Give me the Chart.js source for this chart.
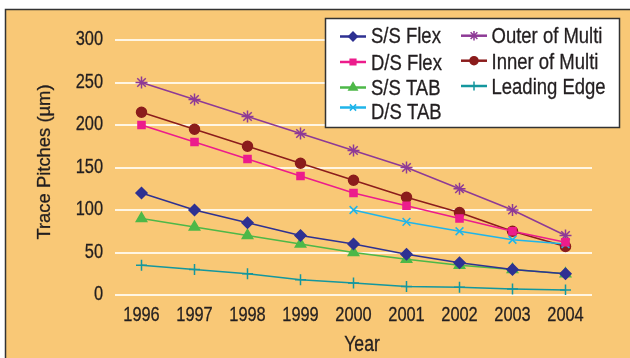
<!DOCTYPE html>
<html><head><meta charset="utf-8">
<script src="https://cdn.jsdelivr.net/npm/chart.js@4"></script>
<style>html,body{margin:0;padding:0;background:#fff;}#wrap{width:630px;height:358px;}</style>
</head><body><div id="wrap"><canvas id="c" width="630" height="358"></canvas></div>
<script>
const years = ['1996','1997','1998','1999','2000','2001','2002','2003','2004'];
const ssFlex = [120,100,85,70,60,48,38,30,25];
const dsFlex = [200,180,160,140,120,105,90,75,62];
const ssTab = [90,80,70,60,50,42,35,30,25];
const dsTab = [null,null,null,null,100,86,75,65,60];
const outerMulti = [250,230,210,190,170,150,125,100,70];
const innerMulti = [215,195,175,155,135,115,97,75,57];
const leadingEdge = [35,30,25,18,14,10,9,7,6];
const yTicks = [0,50,100,150,200,250,300];
const xTitle = 'Year';
const yTitle = 'Trace Pitches (µm)';

const FONT = '"Liberation Sans",Arial,Helvetica,sans-serif';
const TXT = '#231f20';

function ds(label, data, color, style, radius) {
  return {label, data, borderColor: color, backgroundColor: color, pointStyle: style,
    pointRadius: radius, pointHoverRadius: radius, borderWidth: 1.5, pointBorderWidth: 1.5,
    tension: 0, fill: false, spanGaps: false};
}

function sText(ctx, text, x, y, size, sx, align, rot) {
  ctx.save();
  ctx.translate(x, y);
  if (rot) ctx.rotate(rot);
  ctx.scale(sx, 1);
  ctx.font = size + 'px ' + FONT;
  ctx.textAlign = align;
  ctx.textBaseline = 'alphabetic';
  ctx.fillStyle = TXT;
  ctx.strokeStyle = TXT;
  ctx.lineWidth = 0.3;
  ctx.lineJoin = 'round';
  ctx.fillText(text, 0, 0);
  ctx.strokeText(text, 0, 0);
  ctx.restore();
}

const bgPlugin = {
  id: 'bg',
  beforeDraw(chart) {
    const ctx = chart.ctx;
    ctx.save();
    ctx.fillStyle = '#ffffff';
    ctx.fillRect(0, 0, 630, 358);
    ctx.fillStyle = '#f9c876';
    ctx.fillRect(6, 10, 624, 348);
    ctx.strokeStyle = '#333333';
    ctx.lineWidth = 1.5;
    ctx.beginPath();
    ctx.moveTo(5.5, 358); ctx.lineTo(5.5, 9.5); ctx.lineTo(630, 9.5);
    ctx.stroke();
    ctx.restore();
  }
};

const textPlugin = {
  id: 'axisText',
  afterDraw(chart) {
    const ctx = chart.ctx;
    const xs = chart.scales.x, ys = chart.scales.y;
    years.forEach((lab, i) => {
      sText(ctx, lab, xs.getPixelForValue(i), 320.5, 20.5, 0.8, 'center');
    });
    yTicks.forEach(v => {
      sText(ctx, String(v), 103, ys.getPixelForValue(v) + 5, 20.5, 0.8, 'right');
    });
    sText(ctx, xTitle, 362, 351, 21.5, 0.82, 'center');
    sText(ctx, yTitle, 49.5, 162, 18.8, 0.98, 'center', -Math.PI / 2);
  }
};

const legendPlugin = {
  id: 'boxLegend',
  afterDatasetsDraw(chart) {
    const ctx = chart.ctx;
    ctx.save();
    ctx.fillStyle = '#ffffff';
    ctx.strokeStyle = '#333333';
    ctx.lineWidth = 1.5;
    ctx.fillRect(325, 18, 295, 110);
    ctx.strokeRect(325.5, 18.5, 294, 109);
    const lineX = [340, 461];
    const textX = [371, 491.5];
    const lineY = [[36.5, 62, 87.5, 107.5], [35.7, 60.7, 86]];
    const baseY = [[42.8, 69.8, 94.8, 119.3], [42.7, 69.3, 94]];
    chart.data.datasets.forEach((d, i) => {
      const c = i < 4 ? 0 : 1;
      const r = i < 4 ? i : i - 4;
      const x = lineX[c], y = lineY[c][r];
      ctx.strokeStyle = d.borderColor;
      ctx.lineWidth = 2.5;
      ctx.beginPath(); ctx.moveTo(x, y); ctx.lineTo(x + 26, y); ctx.stroke();
      ctx.fillStyle = d.backgroundColor;
      ctx.lineWidth = 1.5;
      Chart.helpers.drawPoint(ctx, {pointStyle: d.pointStyle, radius: d.pointRadius * 0.8, rotation: 0, borderWidth: 1.5}, x + 13, y);
      sText(ctx, d.label, textX[c], baseY[c][r], 21.5, 0.86, 'left');
    });
    ctx.restore();
  }
};

new Chart(document.getElementById('c'), {
  type: 'line',
  data: {
    labels: years,
    datasets: [
      ds('S/S Flex', ssFlex, '#2e3192', 'rectRot', 5.5),
      ds('D/S Flex', dsFlex, '#ec1c8c', 'rect', 5),
      ds('S/S TAB', ssTab, '#4db848', 'triangle', 6),
      ds('D/S TAB', dsTab, '#1fb5ea', 'crossRot', 5.5),
      ds('Outer of Multi', outerMulti, '#8e3a96', 'star', 6),
      ds('Inner of Multi', innerMulti, '#8b1c1c', 'circle', 5),
      ds('Leading Edge', leadingEdge, '#14979e', 'cross', 5.5)
    ]
  },
  options: {
    responsive: false,
    devicePixelRatio: 1,
    animation: false,
    layout: {padding: {top: 40, right: 38, left: 0, bottom: 0}},
    plugins: {legend: {display: false}, tooltip: {enabled: false}},
    scales: {
      x: {
        type: 'category',
        offset: true,
        grid: {display: false, drawTicks: false},
        border: {display: false},
        ticks: {display: false, autoSkip: false},
        title: {display: false},
        afterFit(s) { s.height = 63; }
      },
      y: {
        min: 0, max: 300,
        afterBuildTicks(s) { s.ticks = yTicks.map(v => ({value: v})); },
        grid: {color: '#fff6e4', lineWidth: 2, drawTicks: false},
        border: {display: false},
        ticks: {display: false},
        title: {display: false},
        afterFit(s) { s.width = 115; }
      }
    }
  },
  plugins: [bgPlugin, legendPlugin, textPlugin]
});
</script></body></html>
